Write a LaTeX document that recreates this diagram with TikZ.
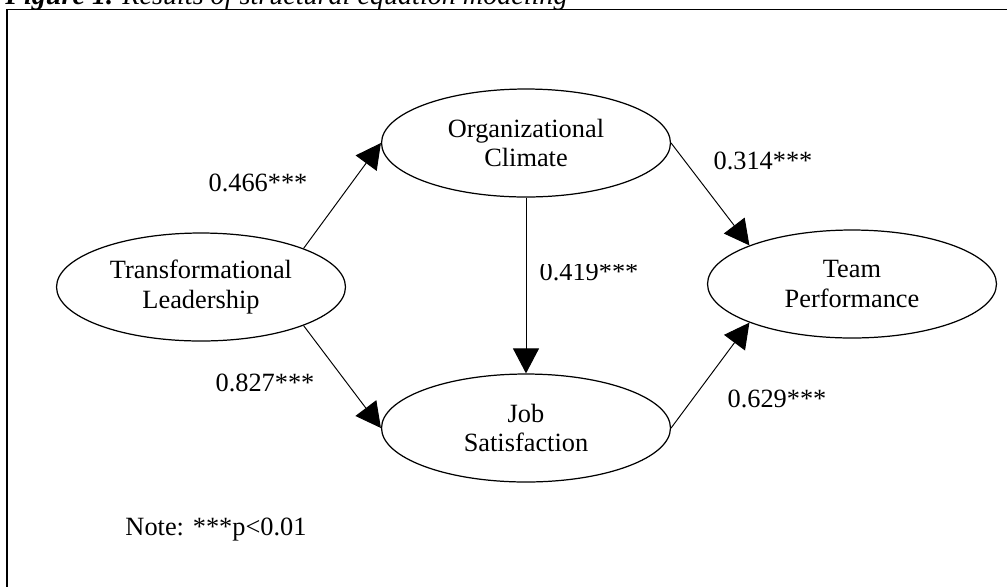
\documentclass[tikz,border=0pt]{standalone}
\usepackage{fontspec}
\setmainfont{Liberation Serif}
\usetikzlibrary{arrows.meta,shapes.geometric}

\begin{document}
\begin{tikzpicture}[x=0.02cm,y=-0.02cm,
  latent/.style={draw,ellipse,line width=0.7pt,minimum width=5.78cm,minimum height=2.16cm,inner sep=0pt,align=center,font=\fontsize{15}{17}\selectfont},
  coef/.style={font=\fontsize{15}{17}\selectfont,inner sep=0pt},
  path/.style={line width=0.55pt,-{Triangle[length=0.5cm,width=0.52cm]}}]
  \useasboundingbox (0,0) rectangle (1007,586);
  % Caption and frame
  \node[anchor=base west,inner sep=0pt,font=\fontsize{16}{18}\selectfont] (cap) at (5,4)
    {\textbf{\textit{Figure 1.}} \textit{Results of structural equation modeling}};
  \draw[line width=0.85pt] (7,600) -- (7,9.5) -- (1012,9.5);
  % Constructs
  \node[latent] (tl) at (201,287) {Transformational\\Leadership};
  \node[latent] (oc) at (526,143) {Organizational\\Climate};
  \node[latent] (js) at (526,428) {Job\\Satisfaction};
  \node[latent] (tp) at (852,284) {Team\\Performance};
  % Paths
  \draw[path] (tl.north east) -- (oc.west);
  \draw[path] (tl.south east) -- (js.west);
  \draw[path] (oc.south) -- (js.north);
  \draw[path] (oc.east) -- (tp.north west);
  \draw[path] (js.east) -- (tp.south west);
  % Coefficients
  \node[coef] (b1) at (258,183) {0.466***};
  \node[coef] (b2) at (265,383) {0.827***};
  \begin{scope}
    \clip (540,264) rectangle (660,300);
    \node[coef,anchor=base] (b3) at (589,280) {0.419***};
  \end{scope}
  \node[coef] (b4) at (763,161) {0.314***};
  \node[coef] (b5) at (777,399) {0.629***};
  % Note
  \node[coef] (note) at (216,530) {Note: ***p<0.01};
\end{tikzpicture}
\end{document}
